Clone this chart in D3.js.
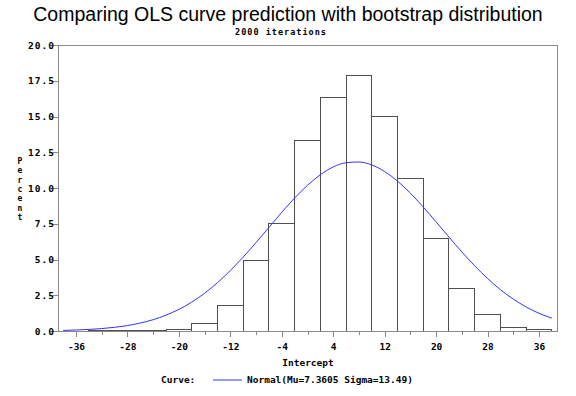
<!DOCTYPE html>
<html>
<head>
<meta charset="utf-8">
<script src="https://cdn.jsdelivr.net/npm/d3@7"></script>
<style>
  html, body { margin: 0; padding: 0; background: #fff; }
  svg { display: block; }
  .mono { font-family: "DejaVu Sans Mono", "Liberation Mono", monospace; font-weight: bold; }
</style>
</head>
<body>
<svg id="chart" width="576" height="396"></svg>
<script>
// ---- data ----
const binCenters = [-36, -32, -28, -24, -20, -16, -12, -8, -4, 0, 4, 8, 12, 16, 20, 24, 28, 32, 36];
const binPercents = [0.0, 0.05, 0.05, 0.05, 0.1, 0.55, 1.75, 4.9, 7.55, 13.3, 16.35, 17.9, 15.0, 10.65, 6.5, 3.0, 1.15, 0.25, 0.1];
const binWidth = 4;
const curveX = [-38, -36, -34, -32, -30, -28, -26, -24, -22, -20, -18, -16, -14, -12, -10, -8, -6, -4, -2, 0, 2, 4, 6, 8, 10, 12, 14, 16, 18, 20, 22, 24, 26, 28, 30, 32, 34, 36, 38];
const curveY = [0.04, 0.07, 0.11, 0.17, 0.26, 0.38, 0.56, 0.79, 1.11, 1.51, 2.02, 2.64, 3.38, 4.23, 5.17, 6.19, 7.24, 8.30, 9.30, 10.19, 10.93, 11.47, 11.77, 11.82, 11.61, 11.15, 10.48, 9.64, 8.67, 7.63, 6.57, 5.53, 4.56, 3.67, 2.89, 2.23, 1.68, 1.24, 0.90];
const xTickLabels = [-36, -28, -20, -12, -4, 4, 12, 20, 28, 36];
const xMinorTicks = [-32, -24, -16, -8, 0, 8, 16, 24, 32];
const yTickLabels = ["0.0", "2.5", "5.0", "7.5", "10.0", "12.5", "15.0", "17.5", "20.0"];
const titleText = "Comparing OLS curve prediction with bootstrap distribution";
const subtitleText = "2000 iterations";
const xLabel = "Intercept";
const yLabel = "Percent";
const legendTitle = "Curve:";
const legendText = "Normal(Mu=7.3605 Sigma=13.49)";

// ---- layout ----
const padL = 58, padR = 557, padT = 45, padB = 331;
const svg = d3.select("#chart");

const x = d3.scaleLinear().domain([-38.8, 38.8]).range([padL, padR]);
const y = d3.scaleLinear().domain([0, 20]).range([padB, padT]);

// title
svg.append("text")
  .attr("x", 288).attr("y", 21)
  .attr("text-anchor", "middle")
  .style("font-family", "'Liberation Sans', Arial, sans-serif")
  .style("font-size", "19.5px")
  .attr("fill", "#000")
  .text(titleText);

svg.append("text")
  .attr("class", "mono")
  .attr("x", 281).attr("y", 35)
  .attr("text-anchor", "middle")
  .style("font-size", "8.5px")
  .style("letter-spacing", "1px")
  .text(subtitleText);

// bars
const g = svg.append("g");
g.selectAll("rect.bar")
  .data(binCenters.map((c, i) => ({ c, v: binPercents[i] })).filter(d => d.v > 0))
  .enter().append("rect")
  .attr("class", "bar")
  .attr("x", d => x(d.c - binWidth / 2))
  .attr("width", d => x(d.c + binWidth / 2) - x(d.c - binWidth / 2))
  .attr("y", d => y(d.v))
  .attr("height", d => y(0) - y(d.v))
  .attr("fill", "#fff")
  .attr("stroke", "#505050")
  .attr("stroke-width", 1)
  .attr("shape-rendering", "crispEdges");

// curve
const line = d3.line()
  .x((d, i) => x(curveX[i]))
  .y(d => y(d))
  .curve(d3.curveMonotoneX);
g.append("path")
  .datum(curveY)
  .attr("d", line)
  .attr("fill", "none")
  .attr("stroke", "#3333ff")
  .attr("stroke-width", 1);

// frame
svg.append("rect")
  .attr("x", padL).attr("y", padT)
  .attr("width", padR - padL).attr("height", padB - padT)
  .attr("fill", "none")
  .attr("stroke", "#8a8a8a")
  .attr("stroke-width", 1)
  .attr("shape-rendering", "crispEdges");

// x axis ticks
const xAxisMajor = d3.axisBottom(x).tickValues(xTickLabels).tickSize(6).tickFormat(d => d);
const xAg = svg.append("g").attr("transform", `translate(0,${padB})`).call(xAxisMajor);
xAg.select(".domain").remove();
xAg.selectAll("line").attr("stroke", "#8a8a8a").attr("shape-rendering", "crispEdges");
xAg.selectAll("text").attr("class", "mono").style("font-size", "9.5px").attr("fill", "#000").attr("dy", "0.71em").attr("y", 12);

const xAxisMinor = d3.axisBottom(x).tickValues(xMinorTicks).tickSize(4).tickFormat("");
const xAm = svg.append("g").attr("transform", `translate(0,${padB})`).call(xAxisMinor);
xAm.select(".domain").remove();
xAm.selectAll("line").attr("stroke", "#8a8a8a").attr("shape-rendering", "crispEdges");

// y axis
const yAxis = d3.axisLeft(y).tickValues(yTickLabels.map(Number)).tickSize(5)
  .tickFormat((d, i) => yTickLabels[i]);
const yAg = svg.append("g").attr("transform", `translate(${padL},0)`).call(yAxis);
yAg.select(".domain").remove();
yAg.selectAll("line").attr("stroke", "#8a8a8a").attr("shape-rendering", "crispEdges");
yAg.selectAll("text").attr("class", "mono").style("font-size", "9.5px")
  .style("letter-spacing", "1px").attr("fill", "#000").attr("x", -3);

// y label (stacked letters, one text each)
svg.selectAll("text.ylab")
  .data(yLabel.split(""))
  .enter().append("text")
  .attr("class", "mono ylab")
  .style("font-size", "8px")
  .attr("text-anchor", "middle")
  .attr("x", 20)
  .attr("y", (d, i) => 164 + i * 9.3)
  .text(d => d);

// x label
svg.append("text").attr("class", "mono").style("font-size", "9.5px")
  .attr("x", 308).attr("y", 366).attr("text-anchor", "middle").text(xLabel);

// legend
svg.append("text").attr("class", "mono").style("font-size", "9.5px")
  .attr("x", 161).attr("y", 383).text(legendTitle);
svg.append("line").attr("x1", 213).attr("x2", 242).attr("y1", 380).attr("y2", 380)
  .attr("stroke", "#3333ff").attr("stroke-width", 1);
svg.append("text").attr("class", "mono").style("font-size", "9.5px")
  .attr("x", 247).attr("y", 383).text(legendText);
</script>
</body>
</html>
